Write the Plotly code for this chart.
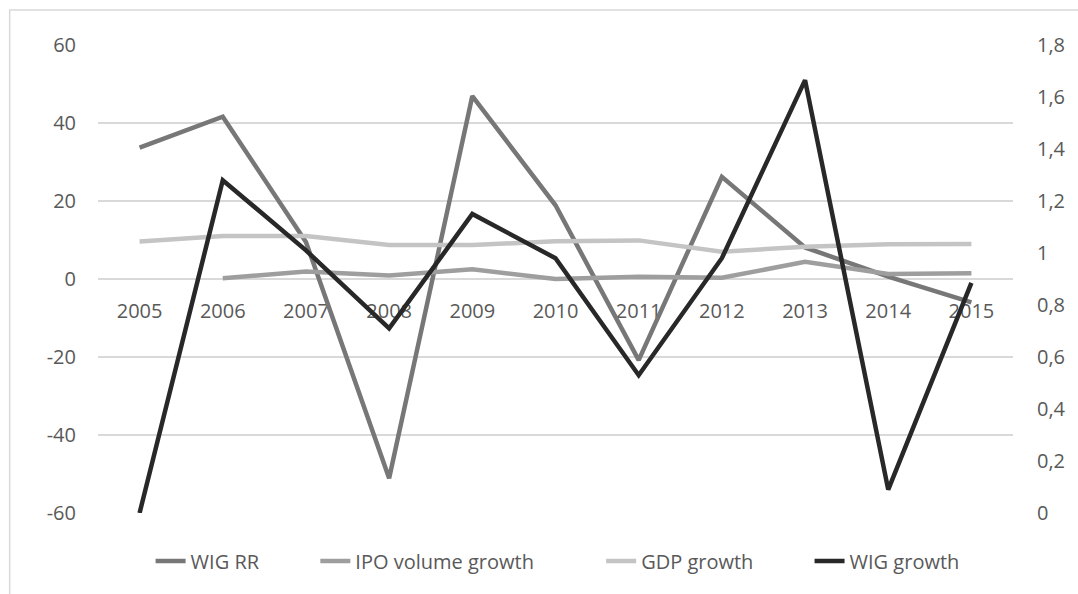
import plotly.graph_objects as go

years = ["2005", "2006", "2007", "2008", "2009", "2010", "2011", "2012", "2013", "2014", "2015"]
wig_rr = [33.7, 41.6, 9.5, -51.1, 46.9, 18.9, -20.8, 26.2, 8.1, 0.6, -6.0]
ipo_volume_growth = [None, 0.2, 1.9, 0.9, 2.5, 0.0, 0.6, 0.3, 4.4, 1.3, 1.5]
gdp_growth = [9.6, 11.0, 11.0, 8.7, 8.7, 9.7, 9.9, 7.0, 8.3, 8.9, 9.0]
wig_growth = [0.0, 1.28, 1.01, 0.71, 1.15, 0.98, 0.53, 0.98, 1.665, 0.09, 0.885]

left_tick_vals = [-60, -40, -20, 0, 20, 40, 60]
left_tick_labels = ["-60", "-40", "-20", "0", "20", "40", "60"]
right_tick_vals = [0, 0.2, 0.4, 0.6, 0.8, 1.0, 1.2, 1.4, 1.6, 1.8]
right_tick_labels = ["0", "0,2", "0,4", "0,6", "0,8", "1", "1,2", "1,4", "1,6", "1,8"]

FONT = "Open Sans"
TXT = "#595959"

fig = go.Figure()
fig.add_trace(go.Scatter(x=years, y=wig_rr, name="WIG RR", mode="lines",
                         line=dict(color="#777777", width=4.5), legend="legend"))
fig.add_trace(go.Scatter(x=years, y=ipo_volume_growth, name="IPO volume growth", mode="lines",
                         line=dict(color="#9e9e9e", width=4.5), legend="legend2"))
fig.add_trace(go.Scatter(x=years, y=gdp_growth, name="GDP growth", mode="lines",
                         line=dict(color="#c4c4c4", width=4.5), legend="legend3"))
fig.add_trace(go.Scatter(x=years, y=wig_growth, name="WIG growth", mode="lines",
                         line=dict(color="#282828", width=4.5), yaxis="y2", legend="legend4"))

W, H = 1078, 594
L, R, T, B = 98, 58, 45, 81
pw = W - L - R
ph = H - T - B

def px2paper_x(px):
    return (px - L) / pw

def px2paper_y(py):
    return (H - B - py) / ph

leg_common = dict(orientation="h", xanchor="left", yanchor="middle",
                  y=px2paper_y(561), bgcolor="rgba(0,0,0,0)",
                  font=dict(family=FONT, size=20, color=TXT))

fig.update_layout(
    width=W, height=H,
    margin=dict(l=L, r=R, t=T, b=B),
    paper_bgcolor="white", plot_bgcolor="white",
    separators=",.",
    showlegend=True,
    font=dict(family=FONT, size=20, color=TXT),
    xaxis=dict(type="category", range=[-0.5, 10.5], anchor="free", position=0.5,
               showgrid=False, showline=False, zeroline=False, ticks="",
               ticklabelstandoff=18, layer="below traces",
               tickfont=dict(family=FONT, size=20, color=TXT)),
    yaxis=dict(range=[-60, 60], tickvals=left_tick_vals, ticktext=left_tick_labels,
               showgrid=True, gridcolor="#d9d9d9", gridwidth=1.5, zeroline=False,
               showline=False, ticks="", ticklabelstandoff=21,
               tickfont=dict(family=FONT, size=20, color=TXT)),
    yaxis2=dict(range=[0, 1.8], tickvals=right_tick_vals, ticktext=right_tick_labels,
                overlaying="y", side="right", showgrid=False, zeroline=False,
                showline=False, ticks="", ticklabelstandoff=23,
                tickfont=dict(family=FONT, size=20, color=TXT)),
    legend=dict(x=px2paper_x(191 - 40), **leg_common),
    legend2=dict(x=px2paper_x(357 - 40), **leg_common),
    legend3=dict(x=px2paper_x(645 - 40), **leg_common),
    legend4=dict(x=px2paper_x(855 - 40), **leg_common),
    shapes=[dict(type="rect", xref="paper", yref="paper",
                 x0=px2paper_x(9), x1=px2paper_x(1100),
                 y0=px2paper_y(620), y1=px2paper_y(10),
                 line=dict(color="#d9d9d9", width=1.5), fillcolor="rgba(0,0,0,0)",
                 layer="below")],
)

fig.write_html("out.html")
